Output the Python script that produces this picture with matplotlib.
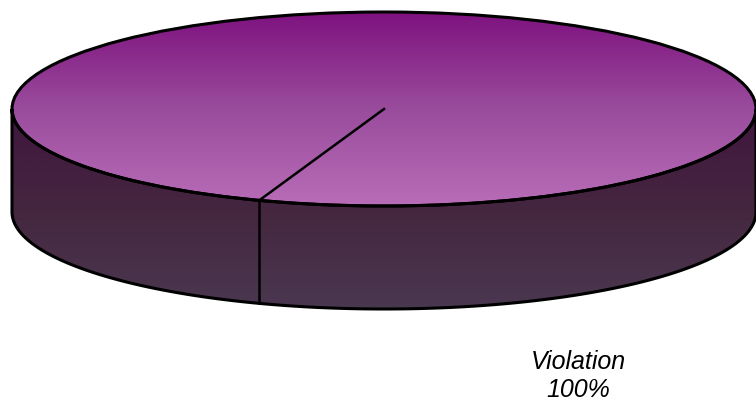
import numpy as np
import matplotlib.pyplot as plt
from matplotlib.patches import Ellipse, Polygon
from matplotlib.colors import LinearSegmentedColormap

# data
labels = ["Violation"]
values = [100.0]

# layout (pixels)
W, H = 756, 405
CX, CY = 384, 109      # centre of top face
RX, RY = 372, 97       # semi axes
DEPTH = 103
START_ANGLE = 250.4    # degrees, where the slice edge is drawn

top_cmap = LinearSegmentedColormap.from_list("top", ["#7e1280", "#9a4c9c", "#b86db8"])
side_cmap = LinearSegmentedColormap.from_list("side", ["#40163f", "#45263f", "#4a3850"])

fig = plt.figure(figsize=(W / 100, H / 100), dpi=100)
ax = fig.add_axes([0, 0, 1, 1])
ax.set_xlim(0, W)
ax.set_ylim(H, 0)
ax.axis("off")

t = np.linspace(0, np.pi, 200)
# side band: lower half of top ellipse and lower half of bottom ellipse
upper = np.column_stack([CX + RX * np.cos(t), CY + RY * np.sin(t)])
lower = np.column_stack([CX + RX * np.cos(t[::-1]), CY + DEPTH + RY * np.sin(t[::-1])])
side = Polygon(np.vstack([upper, lower]), closed=True, facecolor="none",
               edgecolor="black", lw=2.2, zorder=3)
ax.add_patch(side)
grad = np.linspace(0, 1, 256).reshape(-1, 1)
im = ax.imshow(grad, cmap=side_cmap, extent=[CX - RX, CX + RX, CY + RY + DEPTH, CY],
               aspect="auto", zorder=1)
im.set_clip_path(side)

top = Ellipse((CX, CY), 2 * RX, 2 * RY, facecolor="none", edgecolor="black",
              lw=2.2, zorder=4)
ax.add_patch(top)
im2 = ax.imshow(grad, cmap=top_cmap, extent=[CX - RX, CX + RX, CY + RY, CY - RY],
                aspect="auto", zorder=2)
im2.set_clip_path(top)

# slice boundaries
total = sum(values)
ang = START_ANGLE
for v in values:
    a = np.radians(ang)
    ex, ey = CX + RX * np.cos(a), CY - RY * np.sin(a)
    ax.plot([CX, ex], [CY, ey], color="black", lw=1.8, zorder=5)
    if np.sin(a) < 0:
        ax.plot([ex, ex], [ey, ey + DEPTH], color="black", lw=1.8, zorder=5)
    ang += 360 * v / total

for lab, v in zip(labels, values):
    ax.text(578, 376, f"{lab}\n{v / total:.0%}", ha="center", va="center",
            multialignment="center", fontsize=18, fontstyle="italic",
            family="Liberation Sans", linespacing=1.25, color="black")

fig.savefig("out.png", dpi=100)
